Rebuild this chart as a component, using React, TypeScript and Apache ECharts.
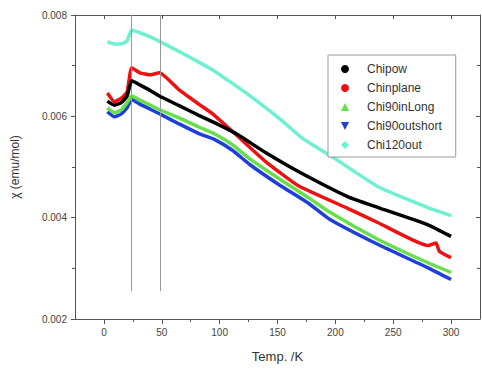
import React, { useEffect, useRef } from "react";
import * as echarts from "echarts";

const seriesNames = ["Chipow", "Chinplane", "Chi90inLong", "Chi90outshort", "Chi120out"];
const seriesColors = ["#000000", "#ee1111", "#66e04a", "#1f3fd8", "#6ef0d2"];
const legendIcons = ["circle", "circle", "triangle", "path://M0,0L10,0L5,10Z", "diamond"];

const temps = [3, 9, 15, 20, 24, 31, 40, 48, 65, 82, 95, 111, 126, 152, 177, 195, 237, 280, 300];

const chipowT = [3, 9, 15, 20, 24, 31, 40, 48, 65, 82, 95, 114, 140, 168, 211, 237, 280, 300];
const chipow = [0.0063, 0.00622, 0.00627, 0.0064, 0.0067, 0.00662, 0.00651, 0.0064, 0.00621, 0.00602, 0.00588, 0.00566, 0.00528, 0.00491, 0.00441, 0.0042, 0.00386, 0.00363];
const chinplaneT = [3, 9, 15, 20, 24, 31, 40, 48, 65, 82, 95, 114, 140, 168, 211, 237, 280, 287, 290, 300];
const chinplane = [0.00646, 0.00629, 0.00636, 0.00648, 0.00696, 0.00686, 0.00682, 0.00686, 0.00652, 0.00624, 0.00603, 0.00564, 0.0051, 0.00463, 0.00418, 0.0039, 0.00345, 0.0035, 0.00333, 0.00321];
const chi90inLong = [0.00617, 0.00607, 0.00613, 0.00627, 0.0064, 0.00632, 0.00622, 0.00613, 0.00597, 0.00579, 0.00566, 0.00544, 0.00516, 0.00476, 0.00439, 0.00411, 0.00357, 0.00311, 0.00292];
const chi90outshort = [0.00609, 0.00599, 0.00605, 0.00617, 0.00633, 0.00624, 0.00614, 0.00605, 0.00585, 0.00566, 0.00555, 0.00533, 0.00505, 0.00464, 0.00428, 0.00397, 0.00347, 0.00301, 0.00278];
const chi120outT = [3, 9, 15, 20, 24, 31, 40, 48, 65, 82, 95, 111, 126, 152, 172, 200, 237, 280, 300];
const chi120out = [0.00747, 0.00743, 0.00743, 0.00749, 0.0077, 0.00765, 0.00757, 0.00748, 0.00728, 0.00707, 0.0069, 0.00665, 0.00641, 0.00595, 0.00556, 0.00516, 0.00461, 0.0042, 0.00404];

const markerTemps = [24, 49];
const markerRange = [0.00255, 0.008];

const xMajorTicks = [0, 50, 100, 150, 200, 250, 300];
const xMinorTicks = [25, 75, 125, 175, 225, 275];

const FONT = "'Liberation Sans', Arial, sans-serif";

export default function App() {
  const ref = useRef<HTMLDivElement>(null);
  useEffect(() => {
    if (!ref.current) return;
    const chart = echarts.init(ref.current, undefined, { renderer: "svg" });
    const pairs = (xs: number[], ys: number[]) => xs.map((x, i) => [x, ys[i]]);
    const allData = [
      pairs(chipowT, chipow),
      pairs(chinplaneT, chinplane),
      pairs(temps, chi90inLong),
      pairs(temps, chi90outshort),
      pairs(chi120outT, chi120out),
    ];
    const axisColor = "#555";
    const series: any[] = allData.map((d, i) => ({
      name: seriesNames[i],
      type: "line",
      data: d,
      xAxisIndex: 0,
      yAxisIndex: 0,
      showSymbol: false,
      smooth: 0.15,
      lineStyle: { color: seriesColors[i], width: 3.5 },
      itemStyle: { color: seriesColors[i] },
      z: 5 - i,
    }));
    series.push({
      type: "line",
      data: [],
      xAxisIndex: 0,
      yAxisIndex: 0,
      markLine: {
        silent: true,
        symbol: "none",
        label: { show: false },
        lineStyle: { color: "#999", width: 1, type: "solid" },
        data: markerTemps.map((t) => [
          { coord: [t, markerRange[0]] },
          { coord: [t, markerRange[1]] },
        ]),
      },
    });
    chart.setOption({
      animation: false,
      textStyle: { fontFamily: FONT },
      grid: { left: 75, top: 15, right: 2, bottom: 48 },
      legend: {
        orient: "vertical",
        left: 328,
        top: 55,
        padding: [8, 14, 6, 13],
        itemWidth: 8,
        itemHeight: 8,
        itemGap: 7,
        backgroundColor: "#fff",
        borderColor: "#999",
        borderWidth: 1,
        textStyle: { fontSize: 12, color: "#333", fontFamily: FONT, padding: [0, 0, 0, 13] },
        data: seriesNames.map((n, i) => ({ name: n, icon: legendIcons[i] })),
      },
      xAxis: [
        {
          type: "value",
          position: "bottom",
          min: -25,
          max: 325,
          name: "Temp. /K",
          nameLocation: "middle",
          nameGap: 31,
          nameTextStyle: { fontSize: 13, color: "#333" },
          axisLine: { show: true, onZero: false, lineStyle: { color: axisColor } },
          axisTick: { show: true, length: 5, customValues: xMajorTicks, lineStyle: { color: axisColor } },
          axisLabel: { customValues: xMajorTicks, fontSize: 10, color: "#444", margin: 8 },
          splitLine: { show: false },
        },
        {
          type: "value",
          position: "bottom",
          min: -25,
          max: 325,
          axisLine: { show: false, onZero: false },
          axisTick: { show: true, length: 3, customValues: xMinorTicks, lineStyle: { color: axisColor } },
          axisLabel: { show: false },
          splitLine: { show: false },
        },
        {
          type: "value",
          position: "top",
          min: -25,
          max: 325,
          axisLine: { show: true, onZero: false, lineStyle: { color: axisColor } },
          axisTick: { show: true, inside: true, length: 4, customValues: xMajorTicks, lineStyle: { color: axisColor } },
          axisLabel: { show: false },
          splitLine: { show: false },
        },
      ],
      yAxis: [
        {
          type: "value",
          position: "left",
          min: 0.002,
          max: 0.008,
          interval: 0.002,
          name: "χ (emu/mol)",
          nameLocation: "middle",
          nameGap: 54,
          nameTextStyle: { fontSize: 12, color: "#333" },
          axisLine: { show: true, onZero: false, lineStyle: { color: axisColor } },
          axisTick: { show: true, length: 4, lineStyle: { color: axisColor } },
          minorTick: { show: true, splitNumber: 2, length: 3, lineStyle: { color: axisColor } },
          axisLabel: { fontSize: 10, color: "#444", margin: 8, formatter: (v: number) => v.toFixed(3) },
          splitLine: { show: false },
        },
        {
          type: "value",
          position: "right",
          min: 0.002,
          max: 0.008,
          interval: 0.002,
          axisLine: { show: true, onZero: false, lineStyle: { color: axisColor } },
          axisTick: { show: true, inside: true, length: 4, lineStyle: { color: axisColor } },
          minorTick: { show: true, splitNumber: 2, length: 3, lineStyle: { color: axisColor } },
          axisLabel: { show: false },
          splitLine: { show: false },
        },
      ],
      series,
    });
    return () => chart.dispose();
  }, []);
  return <div ref={ref} style={{ width: 482, height: 368, position: "absolute", left: 0, top: 0 }} />;
}
